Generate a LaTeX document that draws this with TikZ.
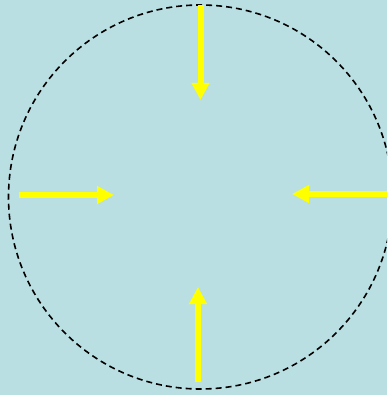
\documentclass[tikz,border=0pt]{standalone}
\usetikzlibrary{arrows.meta}
\definecolor{bgblue}{HTML}{B9DFE3}
\definecolor{arryellow}{HTML}{FFFF00}
\tikzset{
  ring/.style   = {draw=black, circle, dash pattern=on 6pt off 4pt, line width=1.6pt,
                   minimum size=384pt, inner sep=0pt},
  pusharr/.style = {draw=arryellow, line width=6pt,
                    -{Triangle[width=17pt, length=17pt, fill=arryellow]}},
}
\begin{document}
\begin{tikzpicture}[x=1pt, y=-1pt]

%% ---- background ----
\fill[bgblue] (0,0) rectangle (387,395);
\useasboundingbox (0,0) rectangle (387,395);
\clip (0,0) rectangle (387,395);

%% ---- dashed boundary ----
\node[ring] (ring) at (200.5,197) {};

%% ---- arrow end points ----
\coordinate (topS)   at (200.5,5);
\coordinate (topE)   at (200.5,100);
\coordinate (leftS)  at (19,195);
\coordinate (leftE)  at (114,195);
\coordinate (rightS) at (392,194);
\coordinate (rightE) at (292,194);
\coordinate (botS)   at (198,382);
\coordinate (botE)   at (198,287);

%% ---- inward arrows ----
\draw[pusharr] (topS) -- (topE);
\draw[pusharr] (leftS) -- (leftE);
\draw[pusharr] (rightS) -- (rightE);
\draw[pusharr] (botS) -- (botE);

\end{tikzpicture}
\end{document}
